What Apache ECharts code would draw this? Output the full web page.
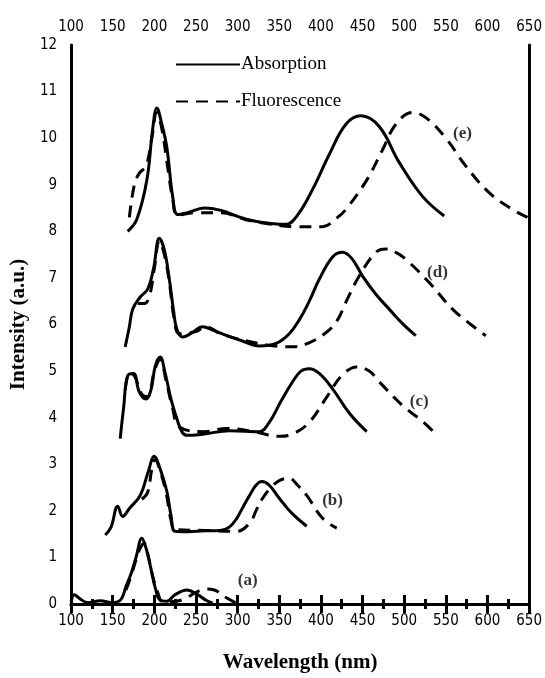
<!DOCTYPE html>
<html>
<head>
<meta charset="utf-8">
<script src="https://cdn.jsdelivr.net/npm/echarts@6/dist/echarts.min.js"></script>
<style>
  html, body { margin: 0; padding: 0; background: #fff; }
  #chart { width: 545px; height: 678px; }
</style>
</head>
<body>
<div id="chart"></div>
<script>
// wavelength (nm), intensity (a.u.)
const absA = [[100,0.05],[104,0.2],[110,0.12],[120,0.03],[135,0.07],[150,0.03],[160,0.1],[166,0.38],[172,0.65],[178,1.0],[185,1.41],[190,1.2],[196,0.75],[201,0.35],[207,0.08],[215,0.06],[225,0.2],[239,0.3],[252,0.2],[262,0.08],[270,0.02]]
const fluA = [[166,0.3],[172,0.6],[178,0.95],[183,1.2],[188,1.3],[193,1.0],[198,0.6],[204,0.25],[210,0.05],[220,0.05],[235,0.1],[250,0.25],[262,0.32],[272,0.3],[285,0.15],[300,0.0]]

const absB = [[141,1.48],[148,1.65],[156,2.1],[162,1.88],[170,2.05],[183,2.33],[192,2.8],[200,3.17],[207,2.9],[215,2.42],[220,1.9],[225,1.56],[240,1.55],[260,1.57],[279,1.58],[290,1.65],[299,1.84],[307,2.1],[315,2.35],[322,2.55],[329,2.63],[338,2.55],[350,2.27],[365,1.95],[383,1.67]]
const fluB = [[185,2.25],[192,2.4],[197,2.9],[201,3.1],[207,2.85],[214,2.4],[220,1.8],[225,1.6],[260,1.58],[299,1.56],[315,1.75],[322,2.0],[330,2.27],[340,2.5],[350,2.65],[362,2.7],[372,2.55],[383,2.33],[402,1.84],[419,1.63]]

const absC = [[159,3.55],[163,4.2],[168,4.9],[175,4.95],[182,4.55],[190,4.4],[196,4.6],[201,5.1],[207,5.3],[213,4.95],[220,4.4],[227,3.98],[233,3.7],[239,3.62],[260,3.65],[290,3.72],[326,3.7],[338,3.9],[352,4.35],[366,4.77],[376,5.0],[386,5.05],[398,4.95],[414,4.62],[434,4.1],[455,3.7]]
const fluC = [[165,4.6],[170,4.95],[176,4.9],[185,4.5],[192,4.45],[200,5.0],[207,5.25],[214,4.8],[222,4.2],[230,3.8],[260,3.7],[287,3.77],[320,3.7],[350,3.6],[366,3.65],[386,3.9],[408,4.47],[425,4.9],[443,5.09],[458,5.0],[470,4.77],[498,4.26],[520,3.95],[534,3.72]]

const absD = [[165,5.52],[170,5.95],[174,6.33],[183,6.59],[192,6.76],[199,7.2],[206,7.85],[212,7.6],[218,6.97],[223,6.3],[227,5.9],[234,5.73],[245,5.82],[258,5.95],[270,5.88],[287,5.76],[305,5.65],[326,5.54],[347,5.6],[362,5.8],[374,6.1],[386,6.5],[398,6.97],[414,7.45],[426,7.55],[437,7.42],[450,7.04],[466,6.65],[482,6.33],[498,6.02],[514,5.76]]
const fluD = [[180,6.45],[188,6.45],[194,6.6],[200,7.2],[206,7.8],[212,7.5],[218,6.9],[224,6.1],[230,5.8],[250,5.85],[262,5.95],[280,5.8],[310,5.65],[340,5.55],[366,5.52],[385,5.6],[407,5.84],[420,6.1],[430,6.48],[446,7.04],[466,7.55],[478,7.62],[490,7.55],[502,7.4],[530,6.9],[558,6.33],[580,6.0],[598,5.76]]

const absE = [[168,8.0],[179,8.26],[191,9.1],[198,10.2],[203,10.65],[209,10.3],[215,9.8],[222,8.75],[228,8.36],[240,8.4],[260,8.5],[280,8.45],[300,8.32],[320,8.22],[340,8.17],[358,8.15],[372,8.35],[390,8.9],[410,9.65],[430,10.3],[448,10.48],[470,10.25],[494,9.48],[522,8.75],[548,8.33]]
const fluE = [[170,8.3],[176,9.0],[182,9.25],[190,9.4],[197,10.0],[203,10.55],[209,10.2],[215,9.5],[222,8.7],[228,8.35],[250,8.4],[280,8.4],[310,8.25],[340,8.15],[370,8.1],[402,8.1],[420,8.3],[430,8.47],[455,9.1],[474,9.75],[490,10.3],[510,10.55],[526,10.44],[550,10.0],[574,9.4],[602,8.83],[630,8.47],[648,8.3]]

const curveTags = [[312,0.51,'(a)'],[414,2.22,'(b)'],[518,4.34,'(c)'],[540,7.12,'(d)'],[570,10.1,'(e)']]

const serif = 'Liberation Serif, Times New Roman, serif'
const tickFont = 'DejaVu Sans Condensed, DejaVu Sans, sans-serif'

function absSeries(data) {
  return {
    name: 'Absorption', type: 'line', data: data, smooth: 0.4, symbol: 'none',
    lineStyle: { color: '#000', width: 3 }, itemStyle: { color: '#000' }
  }
}
function fluSeries(data) {
  return {
    name: 'Fluorescence', type: 'line', data: data, smooth: 0.4, symbol: 'none',
    lineStyle: { color: '#000', width: 3, type: [12, 8] }, itemStyle: { color: '#000' }
  }
}

const xCommon = {
  type: 'value', min: 100, max: 650, interval: 50,
  axisLine: { lineStyle: { color: '#000', width: 3 } },
  axisTick: { length: 9, lineStyle: { color: '#000', width: 3 } },
  minorTick: { show: true, splitNumber: 2, length: 5, lineStyle: { color: '#000', width: 3 } },
  splitLine: { show: false },
  axisLabel: { color: '#000', fontSize: 15, fontFamily: tickFont, margin: 10 }
}

const chart = echarts.init(document.getElementById('chart'))
chart.setOption({
  animation: false,
  backgroundColor: '#fff',
  grid: { left: 71, right: 15, top: 45, bottom: 72 },
  legend: {
    orient: 'vertical', left: 170, top: 50, itemGap: 18,
    itemWidth: 64, itemHeight: 16,
    data: ['Absorption', 'Fluorescence'],
    itemStyle: { opacity: 0 },
    textStyle: { color: '#000', fontSize: 19, fontFamily: serif, padding: [0, 0, 0, -4] }
  },
  xAxis: [
    Object.assign({}, xCommon, {
      position: 'bottom',
      name: 'Wavelength (nm)', nameLocation: 'middle', nameGap: 48,
      nameTextStyle: { color: '#000', fontSize: 21, fontWeight: 'bold', fontFamily: serif }
    }),
    Object.assign({}, xCommon, { position: 'top' })
  ],
  yAxis: [
    {
      type: 'value', min: 0, max: 12, interval: 1, position: 'left',
      axisLine: { show: true, lineStyle: { color: '#000', width: 3 } },
      axisTick: { show: false },
      splitLine: { show: false },
      axisLabel: { color: '#000', fontSize: 15, fontFamily: tickFont, margin: 14 },
      name: 'Intensity (a.u.)', nameLocation: 'middle', nameGap: 36,
      nameTextStyle: { color: '#000', fontSize: 21, fontWeight: 'bold', fontFamily: serif }
    },
    {
      type: 'value', min: 0, max: 12, interval: 1, position: 'right',
      axisLine: { show: true, lineStyle: { color: '#000', width: 3 } },
      axisTick: { show: false }, axisLabel: { show: false }, splitLine: { show: false }
    }
  ],
  series: [
    absSeries(absA), fluSeries(fluA),
    absSeries(absB), fluSeries(fluB),
    absSeries(absC), fluSeries(fluC),
    absSeries(absD), fluSeries(fluD),
    absSeries(absE), fluSeries(fluE),
    {
      type: 'scatter', symbolSize: 0, silent: true,
      data: curveTags.map(t => ({ value: [t[0], t[1]], tag: t[2] })),
      label: {
        show: true, position: 'inside',
        formatter: p => p.data.tag,
        color: '#000', fontSize: 17, fontWeight: 'bold', fontFamily: serif
      }
    }
  ]
})
</script>
</body>
</html>
